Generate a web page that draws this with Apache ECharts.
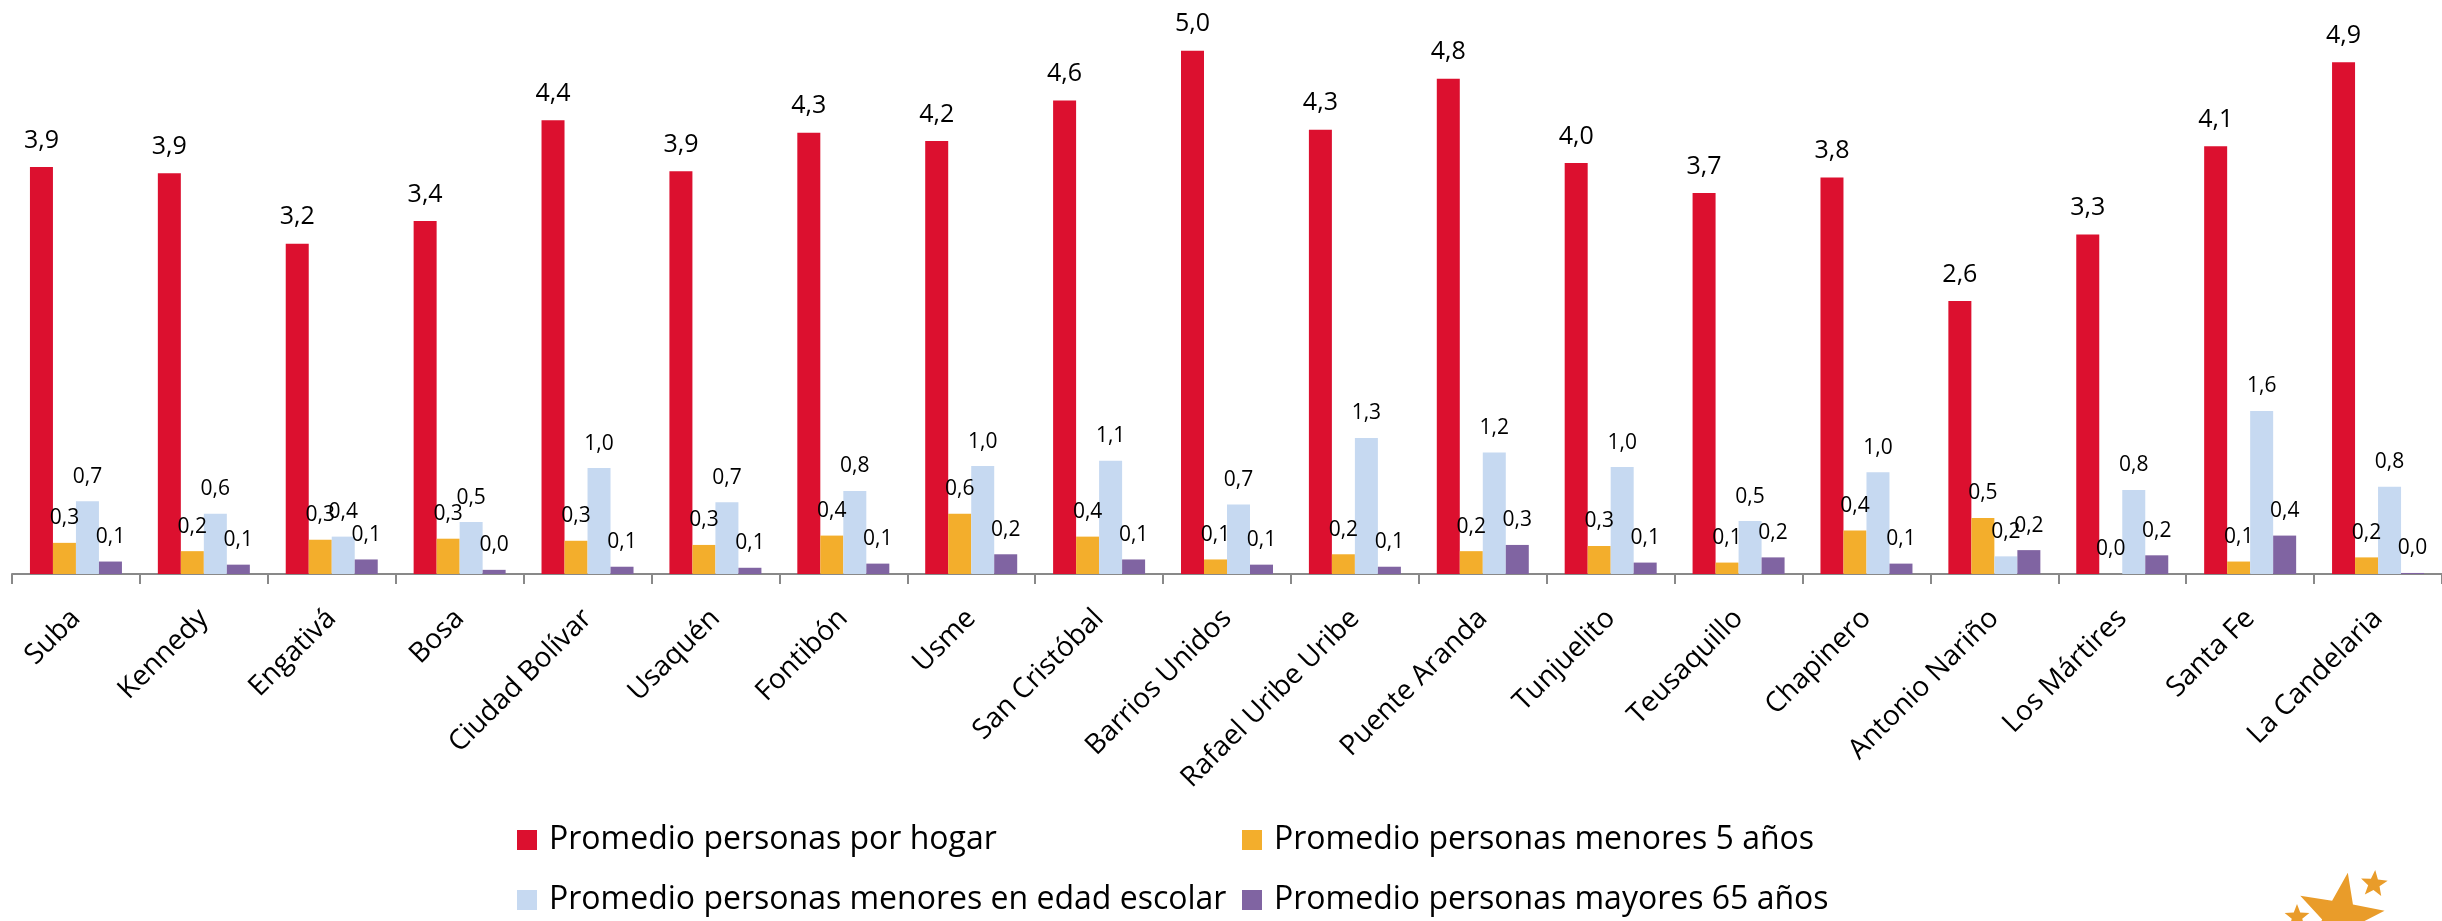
<!DOCTYPE html>
<html>
<head>
<meta charset="utf-8">
<script src="https://cdn.jsdelivr.net/npm/echarts@6/dist/echarts.min.js"></script>
<style>
html,body{margin:0;padding:0;background:#fff;}
#chart{width:2442px;height:921px;}
</style>
</head>
<body>
<div id="chart"></div>
<script>
const categories = ['Suba','Kennedy','Engativá','Bosa','Ciudad Bolívar','Usaquén','Fontibón','Usme','San Cristóbal','Barrios Unidos','Rafael Uribe Uribe','Puente Aranda','Tunjuelito','Teusaquillo','Chapinero','Antonio Nariño','Los Mártires','Santa Fe','La Candelaria'];
const seriesNames = ['Promedio personas por hogar','Promedio personas menores 5 años','Promedio personas menores en edad escolar','Promedio personas mayores 65 años'];
const porHogar   = [3.92,3.86,3.18,3.40,4.37,3.88,4.25,4.17,4.56,5.04,4.28,4.77,3.96,3.67,3.82,2.63,3.27,4.12,4.93];
const menores5   = [0.30,0.22,0.33,0.34,0.32,0.28,0.37,0.58,0.36,0.14,0.19,0.22,0.27,0.11,0.42,0.54,0.00,0.12,0.16];
const edadEscolar= [0.70,0.58,0.36,0.50,1.02,0.69,0.80,1.04,1.09,0.67,1.31,1.17,1.03,0.51,0.98,0.17,0.81,1.57,0.84];
const mayores65  = [0.12,0.09,0.14,0.04,0.07,0.06,0.10,0.19,0.14,0.09,0.07,0.28,0.11,0.16,0.10,0.23,0.18,0.37,0.01];
const colors = ['#DC102F','#F3AE2C','#C6D9F1','#8064A2'];

const FONT = "'Open Sans', sans-serif";
const fmt = p => p.value.toFixed(1).replace('.', ',');

function starPoints(cx, cy, R, r, rotDeg) {
  const pts = [];
  for (let i = 0; i < 10; i++) {
    const a = (-90 + rotDeg + i * 36) * Math.PI / 180;
    const rad = i % 2 === 0 ? R : r;
    pts.push([cx + rad * Math.cos(a), cy + rad * Math.sin(a)]);
  }
  return pts;
}

const chart = echarts.init(document.getElementById('chart'));
const datas = [porHogar, menores5, edadEscolar, mayores65];
const series = datas.map((d, i) => ({
  name: seriesNames[i],
  type: 'bar',
  data: d,
  barWidth: 23,
  barGap: '0%',
  itemStyle: { color: colors[i] },
  label: {
    show: true,
    position: 'top',
    distance: 14,
    formatter: fmt,
    color: '#000',
    fontFamily: FONT,
    fontSize: i === 0 ? 25 : 21
  },
  animation: false
}));

chart.setOption({
  animation: false,
  grid: { left: 12, right: -5, top: 3, bottom: 347, containLabel: false },
  xAxis: {
    type: 'category',
    data: categories,
    axisLine: { lineStyle: { color: '#898989', width: 2 } },
    axisTick: { show: true, length: 10, lineStyle: { color: '#898989', width: 2 } },
    axisLabel: { interval: 0, rotate: 45, margin: 40, color: '#000', fontFamily: FONT, fontSize: 28 }
  },
  yAxis: {
    type: 'value', min: 0, max: 5.5,
    show: false,
    splitLine: { show: false }
  },
  legend: [
    {
      data: [seriesNames[0], seriesNames[2]],
      orient: 'vertical', left: 517, top: 822,
      itemWidth: 20, itemHeight: 20, itemGap: 24, icon: 'rect', padding: 0,
      textStyle: { fontFamily: FONT, fontSize: 32, lineHeight: 36, color: '#000', padding: [0,0,0,7] }
    },
    {
      data: [seriesNames[1], seriesNames[3]],
      orient: 'vertical', left: 1242, top: 822,
      itemWidth: 20, itemHeight: 20, itemGap: 24, icon: 'rect', padding: 0,
      textStyle: { fontFamily: FONT, fontSize: 32, lineHeight: 36, color: '#000', padding: [0,0,0,7] }
    }
  ],
  graphic: [
    { type: 'polygon', shape: { points: starPoints(2340, 917, 45, 18, 10) }, style: { fill: '#E99C2A' }, silent: true },
    { type: 'polygon', shape: { points: starPoints(2374, 884, 14, 6, 5) }, style: { fill: '#E99C2A' }, silent: true },
    { type: 'polygon', shape: { points: starPoints(2297, 917, 13, 5.5, 0) }, style: { fill: '#E99C2A' }, silent: true }
  ],
  series: series
});
</script>
</body>
</html>
